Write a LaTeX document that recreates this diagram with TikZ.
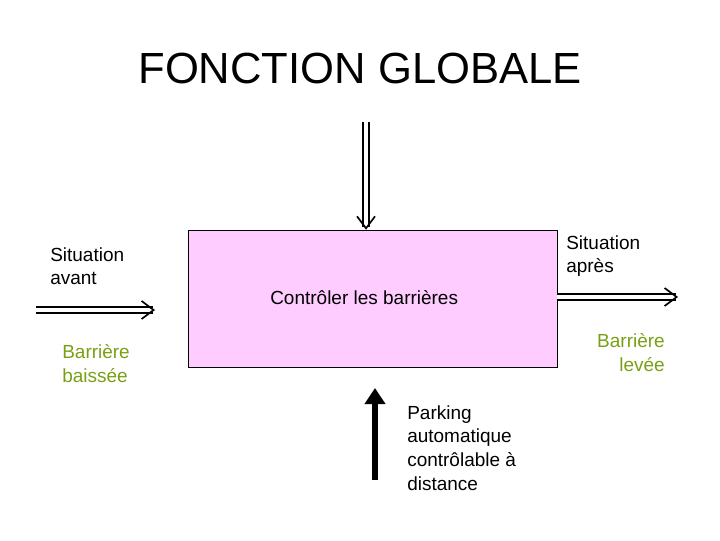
\documentclass[tikz,border=0pt]{standalone}
\usepackage{fontspec}
\setmainfont{Liberation Sans}
\usetikzlibrary{arrows.meta}

\begin{document}
\begin{tikzpicture}[x=0.025cm,y=-0.025cm,
  lbl/.style={font=\fontsize{13.5}{17}\selectfont,align=left,inner sep=0pt},
  grn/.style={lbl,text={rgb,255:red,120;green,160;blue,20}},
  dbl/.style={double,double distance=3pt,line width=1.2pt,-{Straight Barb[length=3mm,width=4.5mm,line width=1.2pt]}}]
\useasboundingbox (0,0) rectangle (720,540);
\node (title) at (360,68) {\fontsize{31}{36}\selectfont FONCTION GLOBALE};
\node[draw,fill={rgb,255:red,255;green,204;blue,255},minimum width=369*0.025cm,minimum height=137*0.025cm,inner sep=0pt] (box) at (372.5,298.5) {};
\node[lbl,anchor=west] (task) at (270,298) {Contrôler les barrières};
% inputs and outputs
\coordinate (topin) at (366,122);
\coordinate (leftin) at (36,310);
\coordinate (rightout) at (678,297);
\coordinate (botin) at (375,480);
\draw[dbl] (topin) -- (box.north -| topin);
\draw[dbl] (leftin) -- (155,310);
\draw[dbl] (box.east |- rightout) -- (rightout);
\draw[line width=4pt,-{Triangle[length=4mm,width=5mm]}] (botin) -- (375,388);
\node[lbl,anchor=north west] (avant) at (50,247) {Situation\\avant};
\node[lbl,anchor=north west] (apres) at (566,235) {Situation\\après};
\node[grn,anchor=north west] (baissee) at (62,344) {Barrière\\baissée};
\node[grn,anchor=north east,align=right] (levee) at (665,333) {Barrière\\levée};
\node[lbl,anchor=north west] (parking) at (407,405) {Parking\\automatique\\contrôlable à\\distance};
\end{tikzpicture}
\end{document}
